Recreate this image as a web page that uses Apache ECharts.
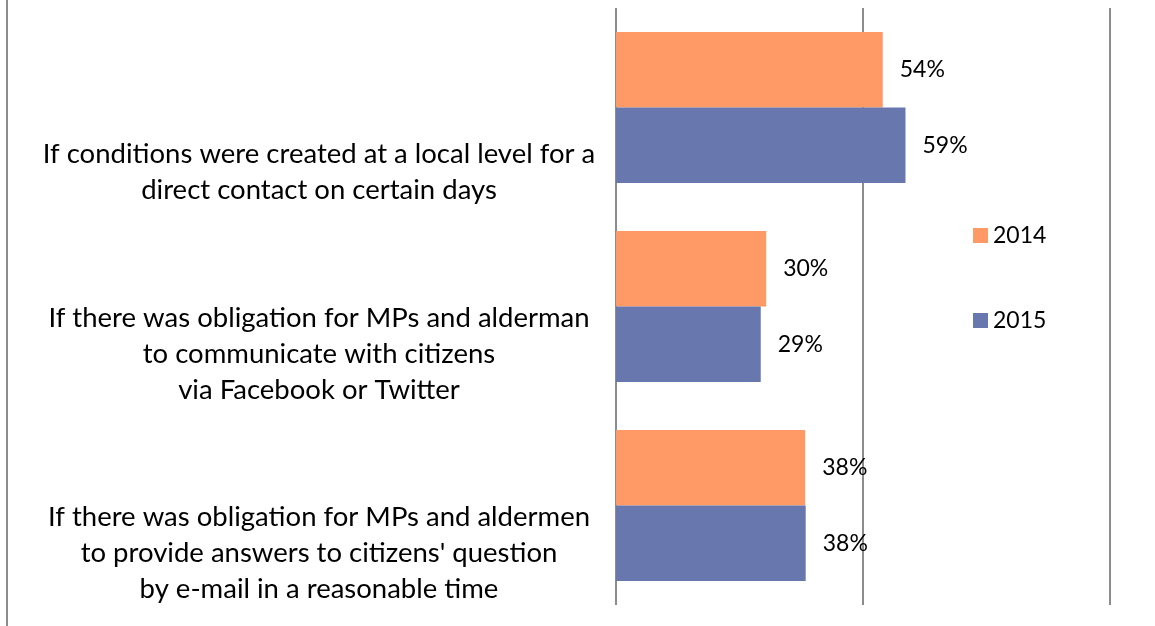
<!DOCTYPE html>
<html>
<head>
<meta charset="utf-8">
<script src="https://cdn.jsdelivr.net/npm/echarts@6/dist/echarts.min.js"></script>
<style>
  html, body { margin: 0; padding: 0; background: #fff; }
  #chart { width: 1155px; height: 626px; }
</style>
</head>
<body>
<div id="chart"></div>
<script>
// categories, top to bottom
const categories = [
  "If conditions were created at a local level for a\ndirect contact on certain days",
  "If there was obligation for MPs and alderman\nto communicate with citizens\nvia Facebook or Twitter",
  "If there was obligation for MPs and aldermen\nto provide answers to citizens' question\nby e-mail in a reasonable time"
]
const seriesNames = ["2014", "2015"]
const values2014 = [54.0, 30.4, 38.3]
const values2015 = [58.6, 29.3, 38.4]

const FONT = "Lato"

let chart = echarts.init(document.getElementById("chart"), null, { renderer: "canvas" })

const barLabel = {
  show: true,
  position: "right",
  distance: 17,
  color: "#000",
  fontFamily: FONT,
  fontSize: 23,
  formatter: (p) => Math.round(p.value) + "%"
}

const catText = { color: "#000", fontFamily: FONT, fontSize: 27.5, lineHeight: 36 }

const option = {
  animation: false,
  textStyle: { fontFamily: FONT },
  grid: {
    left: 616,
    right: 45,
    top: 8,
    bottom: 21,
    containLabel: false,
    outerBoundsMode: "none"
  },
  legend: {
    orient: "vertical",
    left: 968,
    top: 219,
    icon: "rect",
    itemWidth: 15,
    itemHeight: 15,
    itemGap: 62,
    textStyle: { fontFamily: FONT, fontSize: 23, color: "#000" },
    data: seriesNames
  },
  xAxis: {
    type: "value",
    min: 0,
    max: 100,
    interval: 50,
    axisLine: { show: false },
    axisTick: { show: false },
    axisLabel: { show: false },
    splitLine: { lineStyle: { color: "#8c8c8c", width: 2 } }
  },
  yAxis: {
    type: "category",
    inverse: true,
    data: categories,
    axisLine: { show: false },
    axisTick: { show: false },
    axisLabel: {
      interval: 0,
      hideOverlap: false,
      margin: 297,
      align: "center",
      verticalAlign: "middle",
      padding: [96, 0, 0, 0],
      ...catText,
      // two-line labels sit a little lower in the original
      formatter: (value) => {
        const lines = value.split("\n")
        const style = lines.length === 2 ? "low" : "n"
        return lines.map((l) => "{" + style + "|" + l + "}").join("\n")
      },
      rich: {
        low: { ...catText, padding: [33, 0, 0, 0] },
        n: { ...catText }
      }
    }
  },
  series: [
    {
      name: seriesNames[0],
      type: "bar",
      data: values2014,
      barGap: "0%",
      barCategoryGap: "24%",
      itemStyle: { color: "#FF9966" },
      label: barLabel
    },
    {
      name: seriesNames[1],
      type: "bar",
      data: values2015,
      barGap: "0%",
      barCategoryGap: "24%",
      itemStyle: { color: "#6878AF" },
      label: barLabel
    }
  ],
  graphic: [
    {
      type: "line",
      shape: { x1: 7, y1: 0, x2: 7, y2: 626 },
      style: { stroke: "#8c8c8c", lineWidth: 2 }
    }
  ]
}

chart.setOption(option)
</script>
</body>
</html>
